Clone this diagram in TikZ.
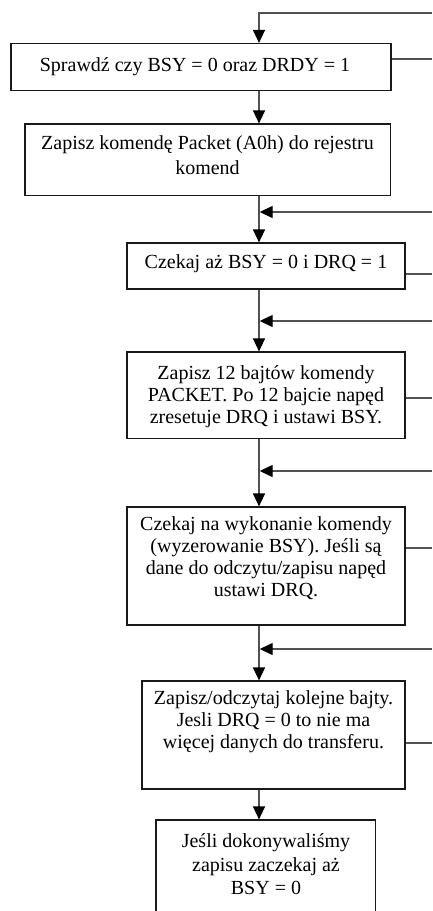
\documentclass[tikz,border=0pt]{standalone}
\usepackage{fontspec}
\setmainfont{Liberation Serif}
\usetikzlibrary{arrows.meta}

\tikzset{
  box/.style={draw=black!90, line width=1.2pt, rectangle, inner sep=0pt},
  txt/.style={align=center, inner sep=0pt, font=\fontsize{20}{22}\selectfont},
  flow/.style={draw=black!68, line width=1.4pt,
    -{Triangle[length=13pt,width=12pt,color=black]}},
  stub/.style={draw=black!68, line width=1.2pt},
}

\begin{document}
\begin{tikzpicture}[x=1pt,y=-1pt]
  \useasboundingbox (0,0) rectangle (432,911);
  \clip (0,0) rectangle (432,911);

  % column of the main flow and the loose ends on the right
  \coordinate (col) at (259,0);
  \coordinate (in1) at (432,13);
  \coordinate (in3) at (432,212);
  \coordinate (in4) at (432,321);
  \coordinate (in5) at (432,471);
  \coordinate (in6) at (432,649);
  \coordinate (o1) at (432,59);
  \coordinate (o3) at (432,274);
  \coordinate (o4) at (432,398);
  \coordinate (o5) at (432,548);
  \coordinate (o6) at (432,743);

  % step boxes
  \node[box, minimum width=380pt, minimum height=47pt]   (b1) at (201,67) {};
  \node[box, minimum width=365.5pt, minimum height=71.5pt] (b2) at (207.75,159.75) {};
  \node[box, minimum width=278pt, minimum height=46pt]   (b3) at (266,266) {};
  \node[box, minimum width=278pt, minimum height=86.5pt] (b4) at (266,395.25) {};
  \node[box, minimum width=278pt, minimum height=118pt]  (b5) at (266,566) {};
  \node[box, minimum width=263pt, minimum height=108pt]  (b6) at (273.5,735) {};
  \node[box, minimum width=219.5pt, minimum height=130pt] (b7) at (265.75,885) {};

  % step texts
  \node[txt] (t1) at (195,67) {Sprawdź czy BSY = 0 oraz DRDY = 1};
  \node[txt, font=\fontsize{20}{25}\selectfont] (t2) at (207.5,155.5)
    {Zapisz komendę Packet (A0h) do rejestru\\komend};
  \node[txt] (t3) at (266,264) {Czekaj aż BSY = 0 i DRQ = 1};
  \node[txt] (t4) at (266,396.5)
    {Zapisz 12 bajtów komendy\\PACKET. Po 12 bajcie napęd\\zresetuje DRQ i ustawi BSY.};
  \node[txt] (t5) at (266,558)
    {Czekaj na wykonanie komendy\\(wyzerowanie BSY). Jeśli są\\dane do odczytu/zapisu napęd\\ustawi DRQ.};
  \node[txt] (t6) at (273.5,721.5)
    {Zapisz/odczytaj kolejne bajty.\\Jesli DRQ = 0 to nie ma\\więcej danych do transferu.};
  \node[txt, font=\fontsize{20}{23.5}\selectfont] (t7) at (266,864.5)
    {Jeśli dokonywaliśmy\\zapisu zaczekaj aż\\BSY = 0};

  % main downward flow
  \draw[flow] (in1) -| (b1.north -| col);
  \draw[flow] (b1.south -| col) -- (b2.north -| col);
  \draw[flow] (b2.south -| col) -- (b3.north -| col);
  \draw[flow] (b3.south -| col) -- (b4.north -| col);
  \draw[flow] (b4.south -| col) -- (b5.north -| col);
  \draw[flow] (b5.south -| col) -- (b6.north -| col);
  \draw[flow] (b6.south -| col) -- (b7.north -| col);

  % returns joining the flow from the right
  \draw[flow] (in3) -- ([xshift=0.7pt]in3 -| col);
  \draw[flow] (in4) -- ([xshift=0.7pt]in4 -| col);
  \draw[flow] (in5) -- ([xshift=0.7pt]in5 -| col);
  \draw[flow] (in6) -- ([xshift=0.7pt]in6 -| col);

  % exits to the right
  \draw[stub] (o1 -| b1.east) -- (o1);
  \draw[stub] (o3 -| b3.east) -- (o3);
  \draw[stub] (o4 -| b4.east) -- (o4);
  \draw[stub] (o5 -| b5.east) -- (o5);
  \draw[stub] (o6 -| b6.east) -- (o6);
\end{tikzpicture}
\end{document}
